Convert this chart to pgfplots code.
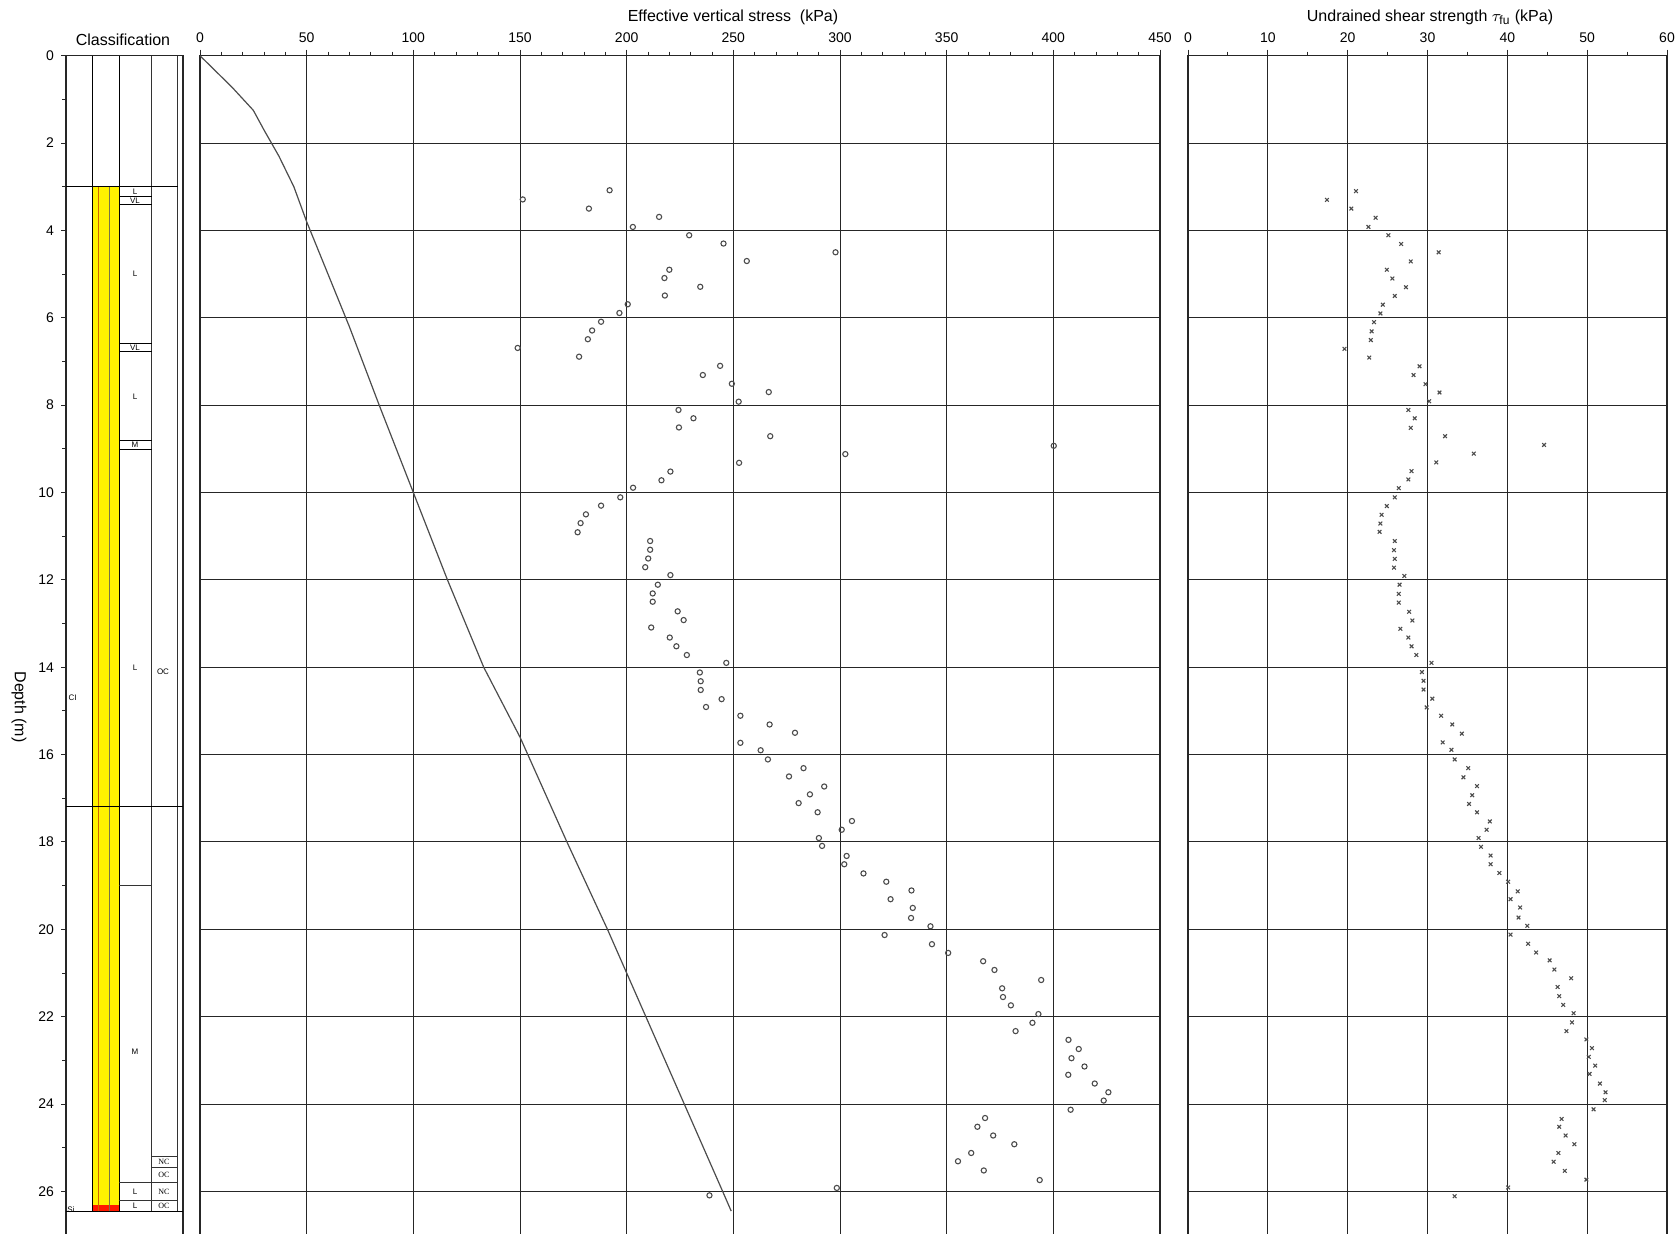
\documentclass[border=0pt]{standalone}
\usepackage{pgfplots}
\pgfplotsset{compat=1.18}
\usepackage{fontspec}
\setmainfont{Liberation Sans}
\newfontfamily\seriffont{Liberation Serif}

\begin{document}
\begin{tikzpicture}
\useasboundingbox (0,0) rectangle (840pt,-616.5pt);
\clip (0,0) rectangle (840pt,-616.5pt);

\pgfplotsset{
  every axis/.append style={
    scale only axis, anchor=north west, height=600.6pt,
    ymin=0, ymax=27.5, y dir=reverse,
    /pgf/number format/assume math mode=true,
    tick label style={font=\fontsize{7}{8}\selectfont},
    axis line style={line width=0.6pt, black!85},
    tick style={black!85, line width=0.5pt},
  }
}

% ---------------- Classification panel ----------------
\begin{axis}[at={(33pt,-27.85pt)}, width=58.5pt,
  xmin=66, xmax=183, xtick=\empty,
  ytick={0,2,...,26}, minor y tick num=1, ytick pos=left,
  tick align=outside, major tick length=2.5pt, minor tick length=2pt]
  \fill[yellow] (axis cs:92.7,3) rectangle (axis cs:119.3,26.45);
  \fill[red!80!orange] (axis cs:92.7,26.3) rectangle (axis cs:119.3,26.45);
  \draw[orange!80!black, line width=0.3pt] (axis cs:98.3,3) -- (axis cs:98.3,26.45);
  \draw[black!60!yellow, line width=0.4pt] (axis cs:109.3,3) -- (axis cs:109.3,26.45);
  \draw[black, line width=0.4pt] (axis cs:92.7,0) -- (axis cs:92.7,26.45);
  \draw[black, line width=0.4pt] (axis cs:119.3,0) -- (axis cs:119.3,26.45);
  \draw[black!80, line width=0.4pt] (axis cs:151.7,0) -- (axis cs:151.7,26.45);
  \draw[black!80, line width=0.4pt] (axis cs:177.5,0) -- (axis cs:177.5,26.45);
  \draw[black, line width=0.5pt] (axis cs:66,3) -- (axis cs:177.5,3);
  \draw[black, line width=0.5pt] (axis cs:66,17.19) -- (axis cs:183,17.19);
  \draw[black!80, line width=0.4pt] (axis cs:119.3,19.0) -- (axis cs:151.7,19.0);
  \draw[black, line width=0.4pt] (axis cs:119.3,3.22) -- (axis cs:151.7,3.22);
  \draw[black, line width=0.4pt] (axis cs:119.3,3.41) -- (axis cs:151.7,3.41);
  \draw[black, line width=0.4pt] (axis cs:119.3,6.59) -- (axis cs:151.7,6.59);
  \draw[black, line width=0.4pt] (axis cs:119.3,6.78) -- (axis cs:151.7,6.78);
  \draw[black, line width=0.4pt] (axis cs:119.3,8.81) -- (axis cs:151.7,8.81);
  \draw[black, line width=0.4pt] (axis cs:119.3,9.01) -- (axis cs:151.7,9.01);
  \draw[black!80, line width=0.4pt] (axis cs:151.7,25.2) -- (axis cs:177.5,25.2);
  \draw[black!80, line width=0.4pt] (axis cs:151.7,25.45) -- (axis cs:177.5,25.45);
  \draw[black!80, line width=0.4pt] (axis cs:119.3,25.79) -- (axis cs:177.5,25.79);
  \draw[black!80, line width=0.4pt] (axis cs:119.3,26.21) -- (axis cs:177.5,26.21);
  \draw[black, line width=0.5pt] (axis cs:66,26.45) -- (axis cs:183,26.45);
  \begin{scope}[every node/.style={font=\fontsize{4}{4}\selectfont, inner sep=0pt}]
    \node at (axis cs:135,3.12) {L};
    \node at (axis cs:135,3.32) {VL};
    \node at (axis cs:135,5.0) {L};
    \node at (axis cs:135,6.69) {VL};
    \node at (axis cs:135,7.8) {L};
    \node at (axis cs:135,8.91) {M};
    \node at (axis cs:135,14.0) {L};
    \node at (axis cs:163,14.1) {OC};
    \node at (axis cs:72.5,14.7) {CI};
    \node at (axis cs:135,22.8) {M};
    \node[font=\seriffont\fontsize{4}{4}\selectfont] at (axis cs:164,25.33) {NC};
    \node[font=\seriffont\fontsize{4}{4}\selectfont] at (axis cs:164,25.62) {OC};
    \node at (axis cs:135,26.0) {L};
    \node[font=\seriffont\fontsize{4}{4}\selectfont] at (axis cs:164,26.0) {NC};
    \node at (axis cs:135,26.33) {L};
    \node[font=\seriffont\fontsize{4}{4}\selectfont] at (axis cs:164,26.33) {OC};
    \node at (axis cs:71,26.42) {Si};
  \end{scope}
\end{axis}

% ---------------- Effective vertical stress ----------------
\begin{axis}[at={(100pt,-27.85pt)}, width=480pt,
  xmin=0, xmax=450, xtick={0,50,...,450}, minor x tick num=4,
  xtick pos=right, xticklabel pos=right,
  ytick=\empty,
  extra y ticks={2,4,...,26}, extra y tick labels={},
  extra y tick style={major tick length=0pt, grid=major},
  xmajorgrids, grid style={black!85, line width=0.5pt},
  tick align=outside, major tick length=3pt, minor tick length=2pt]
  \addplot[black!70, line width=0.6pt] coordinates {
    (0,0) (15,0.72) (25,1.25) (30,1.7) (37,2.3) (44,3.0) (50,3.8) (60,5.0)
    (70,6.2) (84,8) (100,10) (116,12) (133,14) (150,15.6) (172,18)
    (191,20) (209,22) (227,24) (245,26) (249,26.45)};
  \addplot[only marks, mark=o, mark size=1.3pt, black!70, mark options={line width=0.55pt}] coordinates {
(151.3,3.29) (192,3.08) (182.3,3.50) (215.2,3.69) (202.9,3.92) (229.3,4.11)
(245.4,4.30) (297.9,4.50) (256.3,4.70) (220,4.90) (217.7,5.09) (234.5,5.29)
(217.9,5.49) (200.5,5.69) (196.6,5.89) (188,6.09) (183.8,6.29) (181.8,6.49)
(148.9,6.69) (177.7,6.89) (243.8,7.10) (235.7,7.31) (249.3,7.51) (266.6,7.70)
(252.5,7.92) (224.3,8.11) (231.3,8.30) (224.5,8.51) (267.3,8.71) (400.2,8.93)
(302.5,9.12) (252.7,9.32) (220.5,9.52) (216.3,9.72) (203,9.89) (197,10.11)
(188,10.30) (180.9,10.50) (178.4,10.70) (177,10.91) (211,11.11) (211,11.31)
(210.1,11.51) (208.7,11.71) (220.5,11.89) (214.6,12.11) (212.2,12.31) (212.2,12.50)
(223.9,12.72) (226.7,12.92) (211.5,13.09) (220.2,13.32) (223.3,13.52) (228.2,13.72)
(246.7,13.90) (234.3,14.12) (234.7,14.32) (234.7,14.52) (244.5,14.73) (237.2,14.91)
(253.3,15.11) (267,15.31) (278.9,15.50) (253.3,15.73) (262.8,15.90) (266.2,16.11)
(282.9,16.31) (276.1,16.50) (292.6,16.73) (285.9,16.91) (280.6,17.11) (289.5,17.32)
(305.6,17.52) (300.8,17.72) (290.1,17.91) (291.6,18.09) (303.1,18.32) (302,18.51)
(311,18.72) (321.7,18.91) (333.5,19.11) (323.7,19.31) (334.1,19.51) (333.3,19.74)
(342.4,19.93) (320.9,20.13) (343.1,20.34) (350.7,20.54) (367.1,20.73) (372.4,20.93)
(394.3,21.16) (376,21.35) (376.4,21.55) (380.1,21.74) (393,21.94) (390.2,22.14)
(382.3,22.33) (407.1,22.53) (411.9,22.74) (408.5,22.95) (414.6,23.14) (407,23.33)
(419.4,23.53) (425.8,23.73) (423.6,23.92) (408.1,24.13) (368,24.32) (364.4,24.52)
(371.8,24.72) (381.7,24.92) (361.5,25.12) (355.3,25.31) (367.4,25.52) (393.6,25.74)
(298.5,25.92) (238.8,26.09)};
\end{axis}

% ---------------- Undrained shear strength ----------------
\begin{axis}[at={(594pt,-27.85pt)}, width=239.5pt,
  xmin=0, xmax=60, xtick={0,10,...,60}, minor x tick num=1,
  xtick pos=right, xticklabel pos=right,
  ytick=\empty,
  extra y ticks={2,4,...,26}, extra y tick labels={},
  extra y tick style={major tick length=0pt, grid=major},
  xmajorgrids, grid style={black!85, line width=0.5pt},
  tick align=outside, major tick length=3pt, minor tick length=2pt]
  \addplot[only marks, mark=x, mark size=1.3pt, black!70, mark options={line width=0.55pt}] coordinates {
(21.04,3.10) (17.4,3.30) (20.46,3.50) (23.5,3.71) (22.6,3.92) (25.1,4.11)
(26.7,4.31) (31.4,4.50) (27.9,4.71) (24.9,4.90) (25.6,5.10) (27.3,5.30)
(25.9,5.50) (24.4,5.70) (24.1,5.90) (23.3,6.10) (23.0,6.31) (22.9,6.51)
(19.6,6.71) (22.7,6.91) (29.0,7.11) (28.25,7.31) (29.75,7.52) (31.5,7.71)
(30.2,7.91) (27.6,8.11) (28.4,8.30) (27.9,8.52) (32.2,8.71) (44.6,8.91)
(35.8,9.11) (31.1,9.31) (28.0,9.51) (27.6,9.70) (26.4,9.90) (25.9,10.11)
(24.9,10.31) (24.25,10.51) (24.1,10.71) (24.0,10.90) (25.9,11.11) (25.8,11.32)
(25.9,11.52) (25.8,11.72) (27.1,11.91) (26.5,12.11) (26.4,12.32) (26.4,12.52)
(27.7,12.73) (28.1,12.93) (26.6,13.12) (27.6,13.32) (28.0,13.52) (28.6,13.72)
(30.5,13.90) (29.3,14.11) (29.5,14.31) (29.5,14.51) (30.6,14.72) (29.9,14.92)
(31.7,15.11) (33.1,15.31) (34.3,15.52) (31.9,15.72) (33.0,15.89) (33.4,16.11)
(35.1,16.31) (34.5,16.52) (36.2,16.72) (35.6,16.93) (35.2,17.13) (36.2,17.32)
(37.8,17.53) (37.4,17.72) (36.4,17.91) (36.7,18.11) (37.9,18.31) (37.9,18.51)
(39.0,18.71) (40.1,18.91) (41.3,19.13) (40.4,19.31) (41.6,19.50) (41.4,19.73)
(42.5,19.92) (40.4,20.12) (42.6,20.33) (43.6,20.53) (45.3,20.71) (45.9,20.92)
(48.0,21.12) (46.3,21.32) (46.5,21.53) (47.0,21.73) (48.3,21.92) (48.1,22.13)
(47.4,22.33) (49.9,22.52) (50.6,22.72) (50.2,22.92) (51.0,23.12) (50.3,23.31)
(51.6,23.53) (52.3,23.73) (52.2,23.91) (50.8,24.12) (46.8,24.34) (46.5,24.52)
(47.3,24.72) (48.4,24.92) (46.4,25.12) (45.8,25.32) (47.2,25.53) (49.9,25.73)
(40.1,25.91) (33.4,26.11)};
\end{axis}

% ---------------- Titles ----------------
\node[font=\fontsize{8}{9}\selectfont] at (366.5pt,-8.5pt) {Effective vertical stress\ \ (kPa)};
\node[font=\fontsize{8}{9}\selectfont] at (715pt,-8.5pt) {Undrained shear strength $\tau_{\mathrm{fu}}$ (kPa)};
\node[font=\fontsize{8}{9}\selectfont] at (61.5pt,-20pt) {Classification};
\node[font=\fontsize{8}{9}\selectfont, rotate=-90] at (9.5pt,-353.5pt) {Depth (m)};
\end{tikzpicture}
\end{document}
